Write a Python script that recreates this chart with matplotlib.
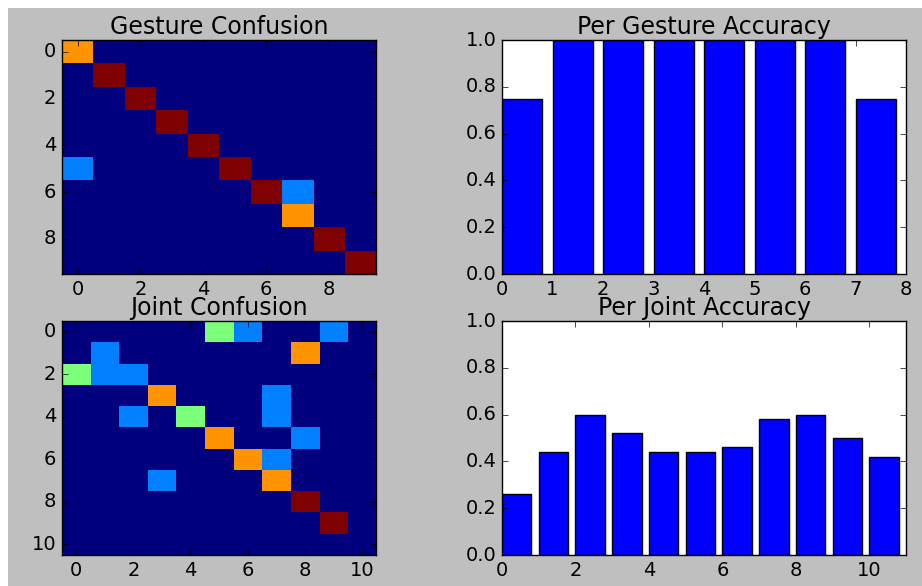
import numpy as np
import matplotlib.pyplot as plt
from matplotlib.patches import Rectangle

plt.style.use('classic')

# per-gesture confusion: (row, col, value)
gesture_cells = [(0, 0, 0.75), (1, 1, 1.0), (2, 2, 1.0), (3, 3, 1.0), (4, 4, 1.0),
                 (5, 0, 0.25), (5, 5, 1.0), (6, 6, 1.0), (6, 7, 0.25), (7, 7, 0.75),
                 (8, 8, 1.0), (9, 9, 1.0)]
n_gestures = 10

# per-joint confusion: (row, col, value)
joint_cells = [(0, 5, 0.5), (0, 6, 0.25), (0, 9, 0.25),
               (1, 1, 0.25), (1, 8, 0.75),
               (2, 0, 0.5), (2, 1, 0.25), (2, 2, 0.25),
               (3, 3, 0.75), (3, 7, 0.25),
               (4, 2, 0.25), (4, 4, 0.5), (4, 7, 0.25),
               (5, 5, 0.75), (5, 8, 0.25),
               (6, 6, 0.75), (6, 7, 0.25),
               (7, 3, 0.25), (7, 7, 0.75),
               (8, 8, 1.0), (9, 9, 1.0)]
n_joints = 11

gesture_acc = [0.75, 1.0, 1.0, 1.0, 1.0, 1.0, 1.0, 0.75]
joint_acc = [0.26, 0.44, 0.60, 0.52, 0.44, 0.44, 0.46, 0.58, 0.60, 0.50, 0.42]


def build_matrix(cells, n):
    m = np.zeros((n, n))
    for r, c, v in cells:
        m[r, c] = v
    return m


gesture_conf = build_matrix(gesture_cells, n_gestures)
joint_conf = build_matrix(joint_cells, n_joints)

fig = plt.figure(figsize=(9.22, 5.86), dpi=100, facecolor='0.75')
# white margin strips along the left and top edges
fig.patches.append(Rectangle((0, 0), 8 / 922, 1, transform=fig.transFigure,
                             facecolor='white', edgecolor='none', zorder=-1))
fig.patches.append(Rectangle((0, 1 - 8 / 586), 1, 8 / 586, transform=fig.transFigure,
                             facecolor='white', edgecolor='none', zorder=-1))

tick_fs = 14
title_fs = 17

ax1 = fig.add_axes([0.0672, 0.5324, 0.3406, 0.3993])
ax2 = fig.add_axes([0.5445, 0.5324, 0.4382, 0.3993])
ax3 = fig.add_axes([0.0672, 0.0529, 0.3406, 0.3993])
ax4 = fig.add_axes([0.5445, 0.0529, 0.4382, 0.3993])

for ax, mat, title in [(ax1, gesture_conf, 'Gesture Confusion'),
                       (ax3, joint_conf, 'Joint Confusion')]:
    ax.imshow(mat, cmap='jet', vmin=0, vmax=1, interpolation='nearest', aspect='auto')
    n = mat.shape[0]
    ax.set_xticks(np.arange(0, n, 2))
    ax.set_yticks(np.arange(0, n, 2))
    ax.set_title(title, fontsize=title_fs, pad=4)

for ax, acc, title, step in [(ax2, gesture_acc, 'Per Gesture Accuracy', 1),
                             (ax4, joint_acc, 'Per Joint Accuracy', 2)]:
    x = np.arange(len(acc))
    ax.bar(x, acc, width=0.8, align='edge', color='blue', edgecolor='black', linewidth=1)
    ax.set_xlim(0, len(acc))
    ax.set_ylim(0, 1.0)
    ax.set_xticks(np.arange(0, len(acc) + 1, step))
    ax.set_yticks(np.arange(0, 1.01, 0.2))
    ax.set_yticklabels([f'{v:.1f}' for v in np.arange(0, 1.01, 0.2)])
    ax.set_title(title, fontsize=title_fs, pad=4)

for ax in (ax1, ax2, ax3, ax4):
    ax.tick_params(labelsize=tick_fs, direction='in', top=True, right=True, length=4)

fig.savefig('out.png', dpi=100, facecolor=fig.get_facecolor())
